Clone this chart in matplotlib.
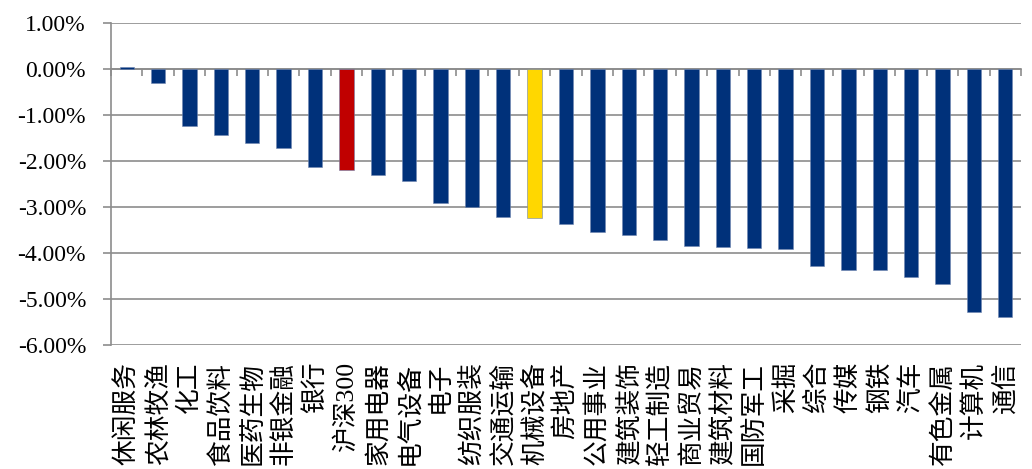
import matplotlib
matplotlib.use("Agg")
import matplotlib.pyplot as plt
from matplotlib.ticker import FuncFormatter, FixedLocator

# industry returns (%), sorted from best to worst
sectors = ["休闲服务", "农林牧渔", "化工", "食品饮料", "医药生物", "非银金融", "银行",
           "沪深300", "家用电器", "电气设备", "电子", "纺织服装", "交通运输", "机械设备",
           "房地产", "公用事业", "建筑装饰", "轻工制造", "商业贸易", "建筑材料", "国防军工",
           "采掘", "综合", "传媒", "钢铁", "汽车", "有色金属", "计算机", "通信"]
returns = [0.04, -0.30, -1.25, -1.43, -1.60, -1.71, -2.14,
           -2.19, -2.31, -2.43, -2.91, -3.00, -3.22, -3.24,
           -3.38, -3.54, -3.60, -3.71, -3.85, -3.87, -3.89,
           -3.91, -4.29, -4.37, -4.37, -4.53, -4.67, -5.28, -5.40]
highlight = {"沪深300": "#C00000", "机械设备": "#FFD700"}
base_color = "#00317A"
grid_color = "#8C8C8C"

colors = [highlight.get(s, base_color) for s in sectors]
x = list(range(len(sectors)))

fig = plt.figure(figsize=(10.32, 4.69), dpi=100)
ax = fig.add_axes([0.1076, 0.2644, 0.8817, 0.6866])

ax.bar(x, returns, width=0.46, color=colors, edgecolor="#6F86B0", linewidth=0.4, zorder=3)

ax.set_xlim(-0.5, len(sectors) - 0.5)
ax.set_ylim(-6, 1)
ax.set_yticks([1, 0, -1, -2, -3, -4, -5, -6])
ax.yaxis.set_major_formatter(FuncFormatter(lambda v, p: "%.2f%%" % v))
ax.grid(axis="y", color=grid_color, linewidth=1.2, zorder=1)
ax.set_axisbelow(True)

for side in ["top", "right", "bottom"]:
    ax.spines[side].set_visible(False)
ax.spines["left"].set_color(grid_color)
ax.spines["left"].set_linewidth(1.2)

ax.tick_params(axis="y", direction="out", length=6, width=1.2, color=grid_color, pad=12,
               labelsize=17)
for lab in ax.get_yticklabels():
    lab.set_fontfamily(["Liberation Serif"])

ax.set_xticks(x)
ax.set_xticklabels(sectors, rotation=90, va="top", ha="center", fontsize=18.5,
                   family=["Liberation Serif", "Noto Sans CJK SC"])
ax.tick_params(axis="x", length=0, pad=12)

# category axis crossing at zero with tick marks between categories
sec = ax.secondary_xaxis(6 / 7)
sec.set_alignment("bottom")
sec.spines["bottom"].set_color(grid_color)
sec.spines["bottom"].set_linewidth(1.2)
sec.xaxis.set_major_locator(FixedLocator([i + 0.5 for i in range(-1, len(sectors))]))
sec.tick_params(axis="x", direction="out", length=5, width=1.2, color=grid_color,
                labelbottom=False, labeltop=False)

fig.savefig("out.png", dpi=100)
